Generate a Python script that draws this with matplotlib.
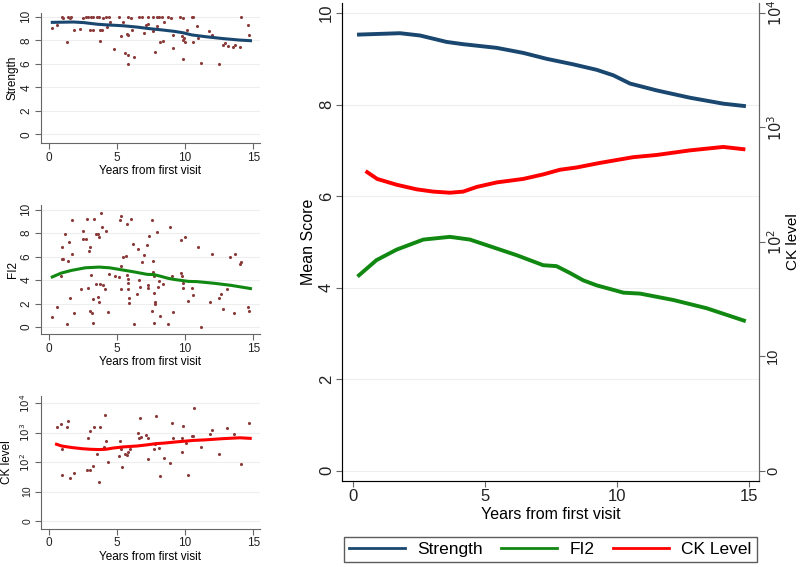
import matplotlib.pyplot as plt
import numpy as np

plt.rcParams['font.family'] = ['Liberation Sans', 'DejaVu Sans']

# smoothed curves
str_x = [0.24, 1.79, 2.55, 3.55, 4.18, 5.45, 6.45, 7.34, 8.34, 9.23, 9.86, 10.49, 11.5, 12.76, 14.02, 14.8]
str_y = [9.53, 9.56, 9.51, 9.37, 9.32, 9.24, 9.13, 9.0, 8.88, 8.76, 8.64, 8.46, 8.31, 8.15, 8.02, 7.97]

fi2_x = [0.24, 0.9, 1.66, 2.67, 3.68, 4.44, 5.32, 6.2, 7.21, 7.71, 8.22, 8.72, 9.23, 9.93, 10.24, 10.87, 12.13, 13.39, 14.8]
fi2_y = [4.27, 4.6, 4.83, 5.05, 5.11, 5.05, 4.88, 4.71, 4.49, 4.47, 4.32, 4.16, 4.05, 3.94, 3.89, 3.87, 3.73, 3.55, 3.28]

ck_x = [0.55, 0.93, 1.66, 2.42, 3.05, 3.68, 4.18, 4.69, 5.45, 6.45, 7.21, 7.84, 8.47, 9.35, 10.61, 11.5, 12.76, 14.02, 14.78]
ck_y = [407, 355, 316, 288, 275, 269, 275, 302, 331, 355, 389, 427, 447, 490, 550, 575, 631, 676, 646]

# raw observations
s_pts_x = [0.24, 0.56, 0.95, 1.0, 1.3, 1.42, 1.54, 1.61, 1.84, 2.28, 2.52, 2.7, 2.9, 3.1, 3.25, 3.0, 3.2,
           3.5, 3.7, 3.74, 3.87, 3.74, 3.99, 4.18, 4.28, 4.43, 4.48, 4.8, 5.16, 5.28, 5.46, 5.58, 5.7, 5.77,
           5.82, 6.0, 5.82, 5.82, 6.24, 6.07, 6.63, 6.8, 6.97, 7.12, 7.29, 7.29, 7.61, 7.9, 8.1, 8.27, 7.66,
           7.78, 7.95, 8.15, 8.39, 8.47, 8.76, 8.93, 9.08, 9.13, 9.62, 9.81, 9.74, 9.86, 9.91, 9.98, 9.86,
           10.15, 10.47, 10.6, 10.6, 10.96, 10.89, 11.2, 11.77, 11.94, 12.48, 12.75, 12.92, 13.16, 13.53,
           13.65, 14.02, 14.09, 14.63, 14.71]
s_pts_y = [9.09, 9.29, 10, 9.86, 7.88, 10, 9.86, 10, 8.92, 9.0, 9.94, 10, 10, 10, 10, 8.92, 8.92,
           10, 10, 8.92, 8.92, 7.96, 9.86, 10, 9.15, 10, 9.58, 7.22, 10, 8.36, 9.58, 6.88, 8.58, 8.44,
           10, 9.94, 6.74, 5.98, 6.54, 8.92, 10, 10, 8.64, 9.29, 9.38, 10, 10, 10, 10, 10, 8.81,
           7.03, 9.2, 7.88, 7.96, 9.58, 10, 9.86, 7.31, 8.44, 10, 9.94, 8.36, 8.02, 8.16, 7.88, 6.37,
           8.87, 10, 10, 7.88, 8.24, 9.2, 6.03, 8.81, 8.44, 5.95, 7.59, 7.73, 7.51, 7.45,
           7.59, 7.45, 10, 9.29, 8.44]

f_pts_x = [0.24, 0.56, 0.88, 0.93, 0.93, 1.0, 1.17, 1.3, 1.37, 1.47, 1.54, 1.66, 1.66, 1.84, 2.35, 2.47,
           2.52, 2.72, 2.76, 2.89, 2.96, 3.01, 3.01, 3.08, 3.13, 3.21, 3.25, 3.33, 3.45, 3.45, 3.62, 3.62,
           3.69, 3.69, 3.74, 3.79, 3.87, 3.99, 4.11, 4.18, 4.36, 4.43, 4.85, 5.14, 5.21, 5.28, 5.28, 5.28,
           5.46, 5.65, 5.75, 5.75, 5.8, 5.8, 5.82, 5.85, 5.87, 6.02, 6.14, 6.24, 6.48, 6.53, 6.58, 6.68,
           6.8, 7.0, 7.17, 7.24, 7.24, 7.36, 7.54, 7.54, 7.66, 7.66, 7.71, 7.73, 7.73, 7.78, 7.78, 7.9,
           8.03, 8.1, 8.15, 8.39, 8.76, 8.88, 9.05, 9.13, 9.66, 9.69, 9.74, 9.81, 9.86, 9.98, 10.23, 10.47,
           10.6, 10.96, 11.2, 11.82, 11.99, 12.48, 12.67, 12.8, 13.04, 13.29, 13.6, 13.65, 14.02, 14.07,
           14.63, 14.71]
f_pts_y = [0.83, 1.68, 4.36, 6.81, 5.81, 5.81, 7.95, 0.26, 5.67, 7.29, 2.45, 6.24, 9.09, 1.23, 3.22, 8.15,
           7.49, 7.49, 9.2, 3.3, 6.52, 6.78, 1.4, 4.44, 1.17, 2.36, 0.31, 9.2, 3.65, 7.95, 7.95, 2.59,
           7.66, 2.17, 3.65, 9.72, 8.52, 3.59, 3.22, 8.15, 1.31, 4.5, 4.36, 4.25, 9.15, 9.49, 3.22, 5.16,
           6.01, 6.07, 8.8, 4.44, 4.07, 3.73, 3.22, 2.45, 2.08, 9.2, 7.09, 0.26, 2.82, 6.64, 4.02, 3.39,
           5.58, 6.15, 7.01, 3.59, 3.3, 7.72, 9.09, 1.4, 5.67, 4.73, 4.36, 2.88, 0.31, 2.17, 1.97, 8.09,
           3.39, 3.93, 0.94, 3.68, 0.26, 8.52, 4.36, 1.31, 7.38, 4.59, 4.36, 3.73, 3.36, 7.66, 2.25, 3.3,
           2.74, 6.81, 0.0, 2.17, 6.24, 2.45, 2.82, 1.51, 3.22, 6.01, 1.17, 6.24, 5.38, 5.58,
           1.68, 1.4]

c_pts_x = [0.56, 0.88, 0.93, 0.95, 1.3, 1.42, 1.54, 1.84, 2.81, 2.89, 3.01, 3.01, 3.21, 3.33, 3.5, 3.67,
           3.74, 4.06, 4.11, 4.18, 4.36, 5.21, 5.14, 5.28, 5.33, 5.58, 5.7, 5.82, 5.95, 6.56, 6.63, 6.68,
           6.75, 7.12, 7.29, 7.24, 7.71, 7.78, 7.83, 8.1, 8.15, 8.44, 8.88, 9.05, 9.08, 9.74, 9.74, 9.86,
           10.06, 10.23, 10.47, 10.6, 10.64, 11.2, 11.82, 11.99, 12.48, 13.11, 13.6, 14.07, 14.71]
c_pts_log = [3.21, 3.3, 2.44, 1.56, 3.21, 3.4, 1.47, 1.62, 1.73, 2.83, 3.07, 1.73, 1.87, 3.21, 2.27, 1.34,
             3.21, 2.5, 3.6, 2.72, 2.02, 2.72, 2.21, 2.44, 1.85, 2.28, 2.24, 2.36, 2.44, 3.0, 2.81, 3.49,
             2.87, 2.92, 2.81, 2.1, 2.44, 2.61, 3.57, 2.47, 1.53, 2.13, 1.98, 3.34, 2.83, 2.81, 2.36, 3.23,
             2.66, 1.56, 2.9, 2.9, 3.83, 2.53, 2.95, 3.09, 2.27, 3.15, 2.95, 1.93, 3.34]
c_pts_y = [10 ** v for v in c_pts_log]

navy = '#1a476f'
green = '#118811'
red = '#ff0000'
dots = '#8b3a3a'
axcol = '#666666'
gridcol = '#eeeeee'

ck_ticks = [1, 10, 100, 1000, 10000]
ck_labels = ['0', '10', '$10^2$', '$10^3$', '$10^4$']

fig = plt.figure(figsize=(8, 5.67), dpi=100)


def style(ax, fs, right=False):
    ax.spines['top'].set_visible(False)
    if not right:
        ax.spines['right'].set_visible(False)
    for s in ['left', 'bottom', 'right']:
        ax.spines[s].set_color(axcol)
    ax.tick_params(colors=axcol, labelcolor='#222222', labelsize=fs, length=4, pad=2)
    ax.tick_params(axis='y', labelrotation=90)
    for t in ax.get_yticklabels():
        t.set_va('center')
    ax.grid(axis='y', color=gridcol, lw=0.8)
    ax.set_axisbelow(True)
    ax.set_xlim(-0.61, 15.5)
    ax.set_xticks([0, 5, 10, 15])


# small panels
ax1 = fig.add_axes([0.0509, 0.7473, 0.2741, 0.2292])
ax1.scatter(s_pts_x, s_pts_y, s=5, color=dots, lw=0)
ax1.plot(str_x, str_y, color=navy, lw=2.2)
ax1.set_ylim(-0.77, 10.3)
ax1.set_yticks([0, 2, 4, 6, 8, 10])
ax1.set_ylabel('Strength', fontsize=8.5)
ax1.set_xlabel('Years from first visit', fontsize=8.5, labelpad=1)
style(ax1, 8.5)

ax2 = fig.add_axes([0.0509, 0.4104, 0.2741, 0.228])
ax2.scatter(f_pts_x, f_pts_y, s=5, color=dots, lw=0)
ax2.plot(fi2_x, fi2_y, color=green, lw=2.2)
ax2.set_ylim(-0.62, 10.4)
ax2.set_yticks([0, 2, 4, 6, 8, 10])
ax2.set_ylabel('FI2', fontsize=8.5)
ax2.set_xlabel('Years from first visit', fontsize=8.5, labelpad=1)
style(ax2, 8.5)

ax3 = fig.add_axes([0.0509, 0.067, 0.2741, 0.2346])
ax3.scatter(c_pts_x, c_pts_y, s=5, color=dots, lw=0)
ax3.plot(ck_x, ck_y, color=red, lw=2.2)
ax3.set_yscale('log')
ax3.set_ylim(10 ** -0.27, 10 ** 4.25)
ax3.set_yticks(ck_ticks)
ax3.set_yticklabels(ck_labels)
ax3.minorticks_off()
ax3.set_ylabel('CK level', fontsize=8.5)
ax3.set_xlabel('Years from first visit', fontsize=8.5, labelpad=1)
style(ax3, 8.5)
ax3.tick_params(axis='y', labelsize=7.5)

ax1.yaxis.set_label_coords(-0.1, 0.5)
ax2.yaxis.set_label_coords(-0.1, 0.5)
ax3.yaxis.set_label_coords(-0.125, 0.5)

# main panel
lo, hi = -0.225, 10.22
ax = fig.add_axes([0.4279, 0.1517, 0.5212, 0.8430])
l1, = ax.plot(str_x, str_y, color=navy, lw=2.8, label='Strength')
l2, = ax.plot(fi2_x, fi2_y, color=green, lw=2.8, label='FI2')
ax.set_ylim(lo, hi)
ax.set_yticks([0, 2, 4, 6, 8, 10])
ax.set_ylabel('Mean Score', fontsize=11.5, labelpad=2)
ax.set_xlabel('Years from first visit', fontsize=11.5, labelpad=2)
style(ax, 12, right=True)
ax.set_xlim(-0.39, 15.38)

axr = ax.twinx()
l3, = axr.plot(ck_x, ck_y, color=red, lw=2.8, label='CK Level')
axr.set_yscale('log')
axr.set_ylim(10 ** (lo * 0.4), 10 ** (hi * 0.4))
axr.set_yticks(ck_ticks)
axr.set_yticklabels(ck_labels)
axr.minorticks_off()
axr.spines['top'].set_visible(False)
axr.spines['right'].set_color(axcol)
axr.tick_params(colors=axcol, labelcolor='#222222', labelsize=10.5, length=4, pad=1)
axr.tick_params(axis='y', labelrotation=90)
for t in axr.get_yticklabels():
    t.set_va('center')
axr.set_ylabel('CK level', fontsize=11)
axr.yaxis.set_label_coords(1.064, 0.5)

leg = fig.legend(handles=[l1, l2, l3], ncol=3, loc='center',
                 bbox_to_anchor=(0.6877, 0.0309), frameon=True, fancybox=False,
                 edgecolor='#333333', fontsize=12.5, handlelength=3.2,
                 handletextpad=0.7, columnspacing=1.1, borderpad=0.3)
for h in leg.get_lines():
    h.set_linewidth(2)

fig.savefig('out.png', dpi=100)
